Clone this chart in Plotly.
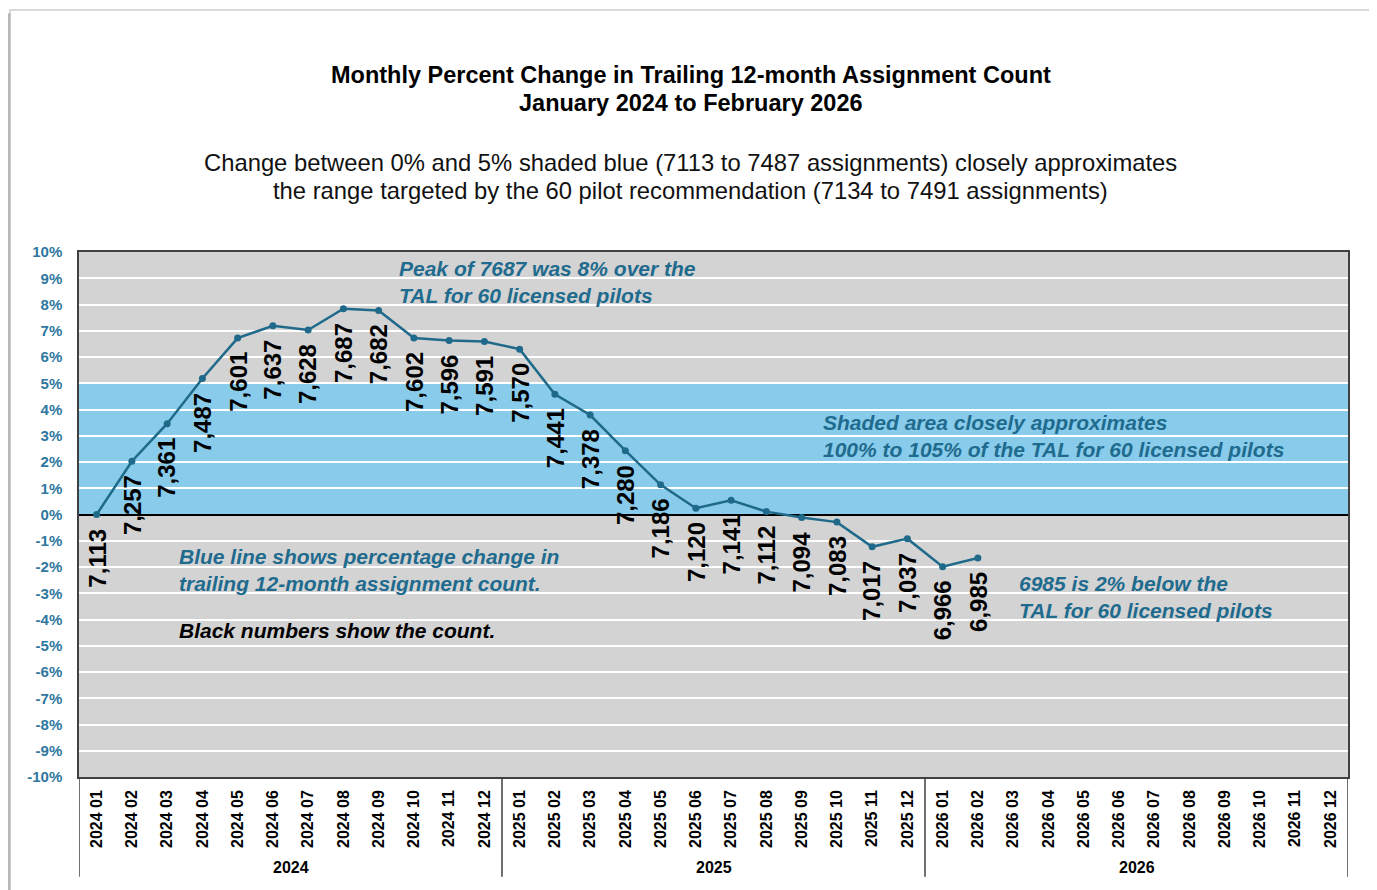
import plotly.graph_objects as go

# ---------------- data ----------------
months = [f"{y} {m:02d}" for y in (2024, 2025, 2026) for m in range(1, 13)]
years = ["2024", "2025", "2026"]
counts = [7113, 7257, 7361, 7487, 7601, 7637, 7628, 7687, 7682, 7602, 7596, 7591,
          7570, 7441, 7378, 7280, 7186, 7120, 7141, 7112, 7094, 7083, 7017, 7037,
          6966, 6985]
pct_change = [0.00, 2.03, 3.46, 5.18, 6.72, 7.19, 7.03, 7.84, 7.77, 6.72, 6.63, 6.59,
              6.30, 4.58, 3.79, 2.43, 1.13, 0.24, 0.54, 0.11, -0.11, -0.29, -1.23, -0.92,
              -1.99, -1.66]
band_low, band_high = 0, 5
y_ticks = list(range(-10, 11))

LINE = "#1F6A8A"
NOTE = "#1F6B8E"
TICK = "#2F77A0"
FONT = "Arial, Liberation Sans, sans-serif"

x_idx = list(range(len(counts)))

fig = go.Figure()
fig.add_trace(go.Scatter(
    x=x_idx, y=pct_change, mode="lines+markers",
    line=dict(color=LINE, width=2.5),
    marker=dict(color=LINE, size=7),
    hoverinfo="skip", showlegend=False))

# shaded band
fig.add_shape(type="rect", xref="paper", yref="y", x0=0, x1=1, y0=band_low, y1=band_high,
              fillcolor="#88CBEA", line=dict(width=0), layer="below")

annotations = []
# count labels
for i, (c, p) in enumerate(zip(counts, pct_change)):
    annotations.append(dict(
        x=i, y=p, xref="x", yref="y", text=f"{c:,}", showarrow=False,
        textangle=-90, xanchor="center", yanchor="top", yshift=-12,
        font=dict(family=FONT, size=24, color="black", weight="bold")))

# year group labels
for k, yr in enumerate(years):
    annotations.append(dict(
        x=k * 12 + 5.5, y=-0.1733, xref="x", yref="paper", text=yr, showarrow=False,
        xanchor="center", yanchor="middle",
        font=dict(family=FONT, size=16, color="black", weight="bold")))

# titles (one annotation per line for exact spacing)
title_lines = [(1.3371, "Monthly Percent Change in Trailing 12-month Assignment Count", True),
               (1.2838, "January 2024 to February 2026", True),
               (1.1714, "Change between 0% and 5% shaded blue (7113 to 7487 assignments) closely approximates", False),
               (1.1162, "the range targeted by the 60 pilot recommendation (7134 to 7491 assignments)", False)]
for ty, txt, bold in title_lines:
    annotations.append(dict(
        x=0.4819, y=ty, xref="paper", yref="paper", showarrow=False,
        xanchor="center", yanchor="middle", text=txt,
        font=dict(family=FONT, size=23.5 if bold else 23.8,
                  color="black" if bold else "#111111",
                  weight="bold" if bold else "normal")))

# notes
notes = [
    (0.2506, 0.942, "Peak of 7687 was 8% over the<br>TAL for 60 licensed pilots", NOTE),
    (0.5847, 0.6486, "Shaded area closely approximates<br>100% to 105% of the TAL for 60 licensed pilots", NOTE),
    (0.0772, 0.3952, "Blue line shows percentage change in<br>trailing 12-month assignment count.", NOTE),
    (0.0772, 0.2781, "Black numbers show the count.", "black"),
    (0.7392, 0.3438, "6985 is 2% below the<br>TAL for 60 licensed pilots", NOTE),
]
for nx, ny, txt, col in notes:
    annotations.append(dict(
        x=nx, y=ny, xref="paper", yref="paper", text=txt, showarrow=False,
        xanchor="left", yanchor="middle", align="left",
        font=dict(family=FONT, size=21, color=col, weight="bold", style="italic")))

# year separators below axis
for b in (-0.5, 11.5, 23.5, 35.5):
    fig.add_shape(type="line", xref="x", yref="paper", x0=b, x1=b, y0=0, y1=-0.19,
                  line=dict(color="#404040", width=1.5))

# card frame with soft side shadows
fig.add_shape(type="rect", xref="paper", yref="paper", x0=-0.0544, x1=1.018, y0=-0.3, y1=1.461,
              line=dict(color="#DADADA", width=2), fillcolor="rgba(0,0,0,0)", layer="below")
for sx in (-0.0552, 1.0188):
    fig.add_shape(type="line", xref="paper", yref="paper", x0=sx, x1=sx, y0=-0.3, y1=1.455,
                  line=dict(color="#B8B8B8", width=3), layer="below")

fig.update_layout(
    width=1369, height=882,
    margin=dict(l=71, r=29, t=244, b=113),
    paper_bgcolor="white", plot_bgcolor="#D3D3D3",
    annotations=annotations,
    showlegend=False,
)
fig.update_xaxes(
    range=[-0.5, 35.5], tickmode="array", tickvals=list(range(len(months))), ticktext=months,
    tickangle=-90, showgrid=False, zeroline=False, ticks="",
    ticklabelstandoff=5,
    tickfont=dict(family=FONT, size=16, color="black", weight="bold"),
    showline=True, linecolor="#404040", linewidth=1.5, mirror=True, fixedrange=True)
fig.update_yaxes(
    range=[-10, 10], tickmode="array", tickvals=y_ticks, ticktext=[f"{v}%" for v in y_ticks],
    showgrid=True, gridcolor="white", gridwidth=2,
    zeroline=True, zerolinecolor="black", zerolinewidth=1.5, ticks="",
    ticklabelstandoff=12,
    tickfont=dict(family=FONT, size=15, color=TICK, weight="bold"),
    showline=True, linecolor="#404040", linewidth=1.5, mirror=True, fixedrange=True)

fig.write_html("out.html")
